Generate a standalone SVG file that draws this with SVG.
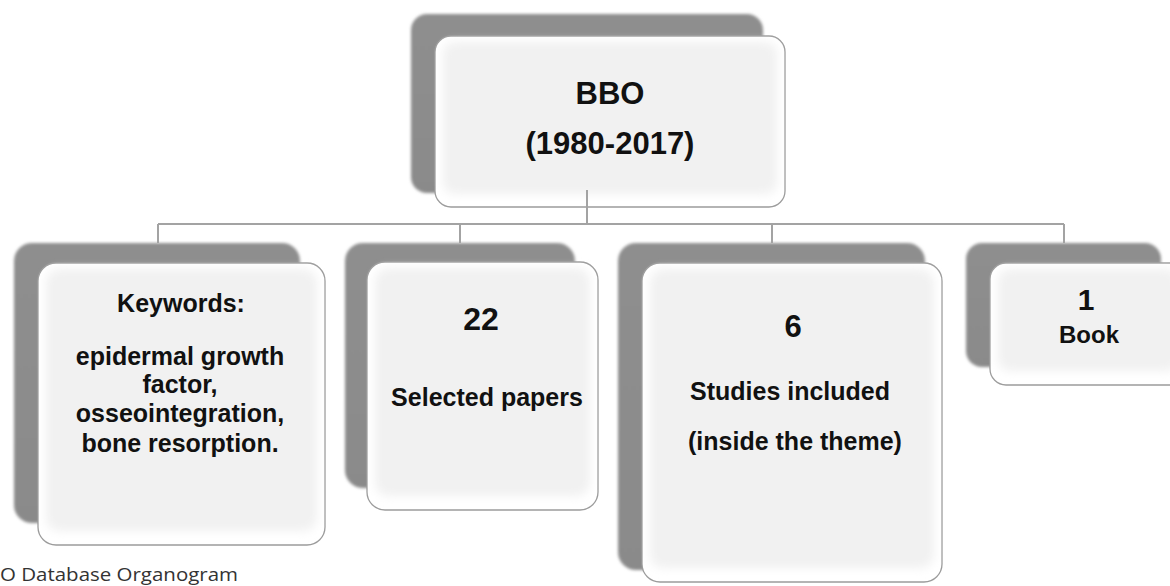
<svg xmlns="http://www.w3.org/2000/svg" width="1170" height="586" viewBox="0 0 1170 586">
<defs>
<linearGradient id="sh" x1="0" y1="0" x2="0" y2="1">
<stop offset="0" stop-color="#8e8e8e"/>
<stop offset="1" stop-color="#8a8a8a"/>
</linearGradient>
<filter id="soft" x="-10%" y="-10%" width="120%" height="120%">
<feGaussianBlur stdDeviation="1.5"/>
</filter>
<filter id="inner" x="-10%" y="-10%" width="120%" height="120%">
<feGaussianBlur stdDeviation="5"/>
</filter>
</defs>
<style>
.shadow{fill:url(#sh);filter:url(#soft)}
.card{fill:#ffffff;stroke:#9c9c9c;stroke-width:1.3}
.glow{fill:#f1f1f1;filter:url(#inner)}
.t{font-family:"Liberation Sans",Arial,sans-serif;font-weight:bold;fill:#111;text-anchor:middle}
.conn{stroke:#a3a3a3;stroke-width:2;fill:none}
.cap{font-family:"Open Sans","Liberation Sans",sans-serif;font-size:18px;fill:#333}
</style>
<rect width="1170" height="586" fill="#ffffff"/>

<g id="node-bbo">
<rect class="shadow" x="411" y="14" width="352" height="179" rx="16"/>
<rect class="card" x="435" y="36" width="350" height="171" rx="16"/>
<rect class="glow" x="443" y="42" width="334" height="152" rx="12"/>
<text class="t" x="610" y="104" font-size="31">BBO</text>
<text class="t" x="610" y="154" font-size="31">(1980-2017)</text>
</g>

<g id="node-keywords">
<rect class="shadow" x="14" y="243" width="286" height="280" rx="18"/>
<rect class="card" x="38" y="263" width="287" height="282" rx="18"/>
<rect class="glow" x="46" y="269" width="271" height="262" rx="14"/>
<text class="t" x="181" y="312" font-size="25">Keywords:</text>
<text class="t" x="180" y="365" font-size="25">epidermal growth</text>
<text class="t" x="180" y="393" font-size="25">factor,</text>
<text class="t" x="180" y="422" font-size="25">osseointegration,</text>
<text class="t" x="180" y="452" font-size="25">bone resorption.</text>
</g>

<g id="node-papers">
<rect class="shadow" x="345" y="243" width="230" height="245" rx="18"/>
<rect class="card" x="367" y="262" width="231" height="248" rx="18"/>
<rect class="glow" x="375" y="268" width="215" height="228" rx="14"/>
<text class="t" x="481" y="330" font-size="32">22</text>
<text class="t" x="487" y="406" font-size="25">Selected papers</text>
</g>

<g id="node-studies">
<rect class="shadow" x="618" y="243" width="307" height="327" rx="18"/>
<rect class="card" x="642" y="263" width="300" height="319" rx="18"/>
<rect class="glow" x="650" y="269" width="284" height="299" rx="14"/>
<text class="t" x="793" y="337" font-size="31">6</text>
<text class="t" x="790" y="400" font-size="25">Studies included</text>
<text class="t" x="795" y="450" font-size="25">(inside the theme)</text>
</g>

<g id="node-book">
<rect class="shadow" x="966" y="243" width="195" height="124" rx="16"/>
<rect class="card" x="990" y="263" width="200" height="122" rx="16"/>
<rect class="glow" x="998" y="269" width="180" height="102" rx="12"/>
<text class="t" x="1086" y="310" font-size="30">1</text>
<text class="t" x="1089" y="343" font-size="24">Book</text>
</g>

<g id="connectors">
<path class="conn" d="M587 190 V224 M158 224 H1064 M158 224 V243 M460 224 V243 M772 224 V243 M1064 224 V243"/>
</g>

<text class="cap" x="0" y="581" textLength="238" lengthAdjust="spacingAndGlyphs">O Database Organogram</text>
</svg>
